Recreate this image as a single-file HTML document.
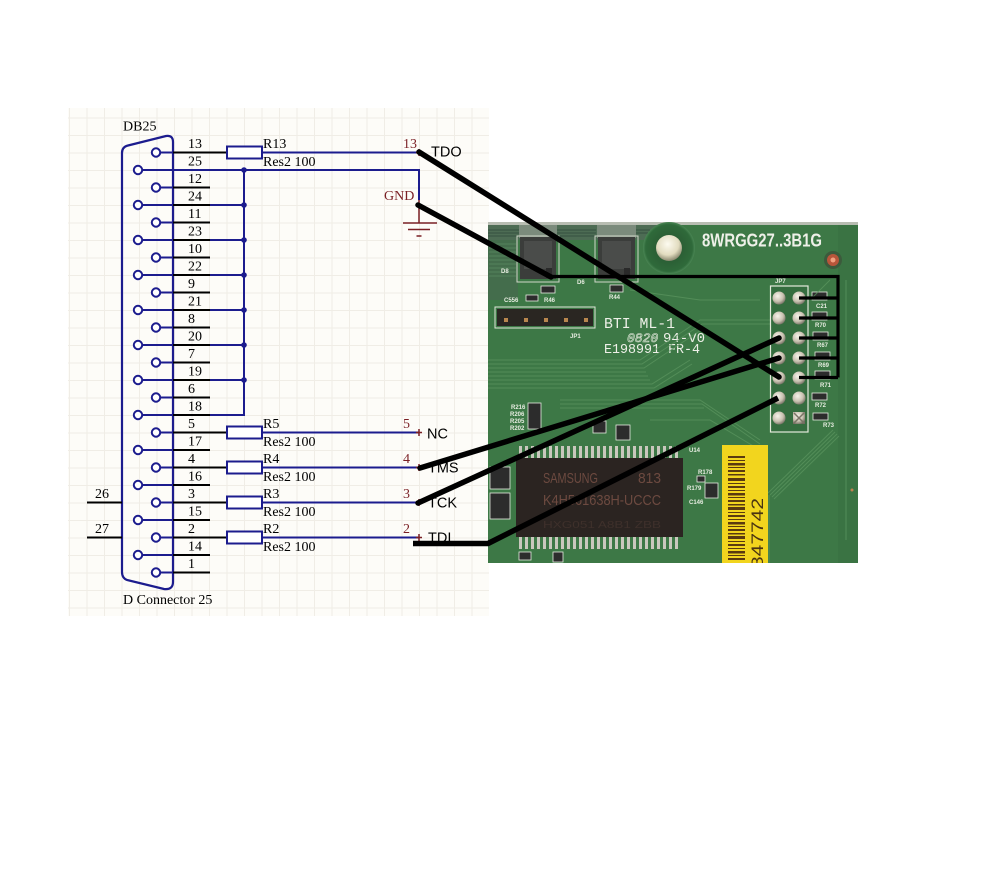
<!DOCTYPE html>
<html><head><meta charset="utf-8"><style>
html,body{margin:0;padding:0;background:#fff;}
svg{display:block;}
</style></head><body>
<svg width="1000" height="886" viewBox="0 0 1000 886" xmlns="http://www.w3.org/2000/svg">
<defs>
<pattern id="g" x="16.5" y="12.5" width="17.5" height="17.5" patternUnits="userSpaceOnUse">
<path d="M0.5 0V17.5M0 0.5H17.5" stroke="#f0ede6" stroke-width="1" fill="none"/>
</pattern>
<radialGradient id="pin" cx="0.4" cy="0.35" r="0.7"><stop offset="0" stop-color="#f6f3ea"/><stop offset="0.6" stop-color="#c8c1b0"/><stop offset="1" stop-color="#6f6a5e"/></radialGradient>
<radialGradient id="hole" cx="0.45" cy="0.35" r="0.7"><stop offset="0" stop-color="#fdfbf0"/><stop offset="0.6" stop-color="#e2dcc0"/><stop offset="1" stop-color="#77765e"/></radialGradient>
<radialGradient id="ring" cx="0.5" cy="0.5" r="0.5"><stop offset="0.5" stop-color="#2b5f35"/><stop offset="0.9" stop-color="#2f6a3a"/><stop offset="1" stop-color="#4a8654"/></radialGradient>
<clipPath id="pc"><rect x="488" y="222" width="370" height="341"/></clipPath>
</defs>

<!-- schematic background -->
<rect x="68" y="108" width="421" height="508" fill="#fdfcf8"/>
<rect x="68" y="108" width="421" height="508" fill="url(#g)"/>

<g font-family="'Liberation Serif', serif" font-size="14" fill="#000">
<text x="123" y="130.5">DB25</text>
<text x="123" y="604">D Connector 25</text>
</g>

<!-- connector outline -->
<path d="M122 572 L122 153 Q122 147 128 145.5 L166 136 Q173 135 173 142 L173 582 Q173 590 164 589 L127 580 Q122 578 122 572 Z" fill="none" stroke="#1c1c8e" stroke-width="2.2"/>

<!-- pins 26/27 -->
<g stroke="#000" stroke-width="2">
<line x1="87" y1="502.5" x2="122" y2="502.5"/>
<line x1="87" y1="537.5" x2="122" y2="537.5"/>
</g>
<g font-family="'Liberation Serif', serif" font-size="14">
<text x="95" y="498">26</text>
<text x="95" y="533">27</text>
</g>

<!-- black pin stubs -->
<g stroke="#000" stroke-width="2">
<line x1="173" y1="152.5" x2="227" y2="152.5"/>
<line x1="173" y1="187.5" x2="210" y2="187.5"/>
<line x1="173" y1="205" x2="210" y2="205"/>
<line x1="173" y1="222.5" x2="210" y2="222.5"/>
<line x1="173" y1="240" x2="210" y2="240"/>
<line x1="173" y1="257.5" x2="210" y2="257.5"/>
<line x1="173" y1="275" x2="210" y2="275"/>
<line x1="173" y1="292.5" x2="210" y2="292.5"/>
<line x1="173" y1="310" x2="210" y2="310"/>
<line x1="173" y1="327.5" x2="210" y2="327.5"/>
<line x1="173" y1="345" x2="210" y2="345"/>
<line x1="173" y1="362.5" x2="210" y2="362.5"/>
<line x1="173" y1="380" x2="210" y2="380"/>
<line x1="173" y1="397.5" x2="210" y2="397.5"/>
<line x1="173" y1="415" x2="210" y2="415"/>
<line x1="173" y1="432.5" x2="227" y2="432.5"/>
<line x1="173" y1="450" x2="210" y2="450"/>
<line x1="173" y1="467.5" x2="227" y2="467.5"/>
<line x1="173" y1="485" x2="210" y2="485"/>
<line x1="173" y1="502.5" x2="227" y2="502.5"/>
<line x1="173" y1="520" x2="210" y2="520"/>
<line x1="173" y1="537.5" x2="227" y2="537.5"/>
<line x1="173" y1="555" x2="210" y2="555"/>
<line x1="173" y1="572.5" x2="210" y2="572.5"/>
</g>

<!-- blue pin leads inside connector -->
<g stroke="#1c1c8e" stroke-width="2">
<line x1="160" y1="152.5" x2="173" y2="152.5"/>
<line x1="160" y1="187.5" x2="173" y2="187.5"/>
<line x1="160" y1="222.5" x2="173" y2="222.5"/>
<line x1="160" y1="257.5" x2="173" y2="257.5"/>
<line x1="160" y1="292.5" x2="173" y2="292.5"/>
<line x1="160" y1="327.5" x2="173" y2="327.5"/>
<line x1="160" y1="362.5" x2="173" y2="362.5"/>
<line x1="160" y1="397.5" x2="173" y2="397.5"/>
<line x1="160" y1="432.5" x2="173" y2="432.5"/>
<line x1="160" y1="467.5" x2="173" y2="467.5"/>
<line x1="160" y1="502.5" x2="173" y2="502.5"/>
<line x1="160" y1="537.5" x2="173" y2="537.5"/>
<line x1="160" y1="572.5" x2="173" y2="572.5"/>
<line x1="142" y1="170" x2="419" y2="170"/>
<line x1="142" y1="205" x2="173" y2="205"/>
<line x1="142" y1="240" x2="173" y2="240"/>
<line x1="142" y1="275" x2="173" y2="275"/>
<line x1="142" y1="310" x2="173" y2="310"/>
<line x1="142" y1="345" x2="173" y2="345"/>
<line x1="142" y1="380" x2="173" y2="380"/>
<line x1="142" y1="415" x2="173" y2="415"/>
<line x1="142" y1="450" x2="173" y2="450"/>
<line x1="142" y1="485" x2="173" y2="485"/>
<line x1="142" y1="520" x2="173" y2="520"/>
<line x1="142" y1="555" x2="173" y2="555"/>
<!-- ground bus -->
<line x1="210" y1="205" x2="244" y2="205"/>
<line x1="210" y1="240" x2="244" y2="240"/>
<line x1="210" y1="275" x2="244" y2="275"/>
<line x1="210" y1="310" x2="244" y2="310"/>
<line x1="210" y1="345" x2="244" y2="345"/>
<line x1="210" y1="380" x2="244" y2="380"/>
<path d="M210 415 H244 V170" fill="none"/>
<line x1="419" y1="169" x2="419" y2="200"/>
<!-- resistor wires -->
<line x1="262" y1="152.5" x2="419" y2="152.5"/>
<line x1="262" y1="432.5" x2="419" y2="432.5"/>
<line x1="262" y1="467.5" x2="419" y2="467.5"/>
<line x1="262" y1="502.5" x2="419" y2="502.5"/>
<line x1="262" y1="537.5" x2="419" y2="537.5"/>
</g>
<g fill="#1c1c8e">
<circle cx="244" cy="170" r="2.8"/><circle cx="244" cy="205" r="2.8"/><circle cx="244" cy="240" r="2.8"/>
<circle cx="244" cy="275" r="2.8"/><circle cx="244" cy="310" r="2.8"/><circle cx="244" cy="345" r="2.8"/>
<circle cx="244" cy="380" r="2.8"/>
</g>

<!-- pin circles -->
<g fill="#fff" stroke="#1c1c8e" stroke-width="2">
<circle cx="156" cy="152.5" r="4.2"/><circle cx="156" cy="187.5" r="4.2"/><circle cx="156" cy="222.5" r="4.2"/>
<circle cx="156" cy="257.5" r="4.2"/><circle cx="156" cy="292.5" r="4.2"/><circle cx="156" cy="327.5" r="4.2"/>
<circle cx="156" cy="362.5" r="4.2"/><circle cx="156" cy="397.5" r="4.2"/><circle cx="156" cy="432.5" r="4.2"/>
<circle cx="156" cy="467.5" r="4.2"/><circle cx="156" cy="502.5" r="4.2"/><circle cx="156" cy="537.5" r="4.2"/>
<circle cx="156" cy="572.5" r="4.2"/>
<circle cx="138" cy="170" r="4.2"/><circle cx="138" cy="205" r="4.2"/><circle cx="138" cy="240" r="4.2"/>
<circle cx="138" cy="275" r="4.2"/><circle cx="138" cy="310" r="4.2"/><circle cx="138" cy="345" r="4.2"/>
<circle cx="138" cy="380" r="4.2"/><circle cx="138" cy="415" r="4.2"/><circle cx="138" cy="450" r="4.2"/>
<circle cx="138" cy="485" r="4.2"/><circle cx="138" cy="520" r="4.2"/><circle cx="138" cy="555" r="4.2"/>
</g>

<!-- resistors -->
<g fill="#fff" stroke="#1c1c8e" stroke-width="2">
<rect x="227" y="146.5" width="35" height="12"/>
<rect x="227" y="426.5" width="35" height="12"/>
<rect x="227" y="461.5" width="35" height="12"/>
<rect x="227" y="496.5" width="35" height="12"/>
<rect x="227" y="531.5" width="35" height="12"/>
</g>

<!-- pin numbers -->
<g font-family="'Liberation Serif', serif" font-size="14">
<text x="188" y="148">13</text><text x="188" y="165.5">25</text>
<text x="188" y="183">12</text><text x="188" y="200.5">24</text>
<text x="188" y="218">11</text><text x="188" y="235.5">23</text>
<text x="188" y="253">10</text><text x="188" y="270.5">22</text>
<text x="188" y="288">9</text><text x="188" y="305.5">21</text>
<text x="188" y="323">8</text><text x="188" y="340.5">20</text>
<text x="188" y="358">7</text><text x="188" y="375.5">19</text>
<text x="188" y="393">6</text><text x="188" y="410.5">18</text>
<text x="188" y="428">5</text><text x="188" y="445.5">17</text>
<text x="188" y="463">4</text><text x="188" y="480.5">16</text>
<text x="188" y="498">3</text><text x="188" y="515.5">15</text>
<text x="188" y="533">2</text><text x="188" y="550.5">14</text>
<text x="188" y="568">1</text>
<!-- resistor labels -->
<text x="263" y="148">R13</text><text x="263" y="166">Res2 100</text>
<text x="263" y="428">R5</text><text x="263" y="446">Res2 100</text>
<text x="263" y="463">R4</text><text x="263" y="481">Res2 100</text>
<text x="263" y="498">R3</text><text x="263" y="516">Res2 100</text>
<text x="263" y="533">R2</text><text x="263" y="551">Res2 100</text>
</g>

<!-- right-side port numbers (maroon) -->
<g font-family="'Liberation Serif', serif" font-size="14" fill="#7a1f24">
<text x="403" y="148">13</text>
<text x="403" y="428">5</text>
<text x="403" y="463">4</text>
<text x="403" y="498">3</text>
<text x="403" y="533">2</text>
<text x="384" y="200">GND</text>
</g>
<g stroke="#7a1f24" stroke-width="1.5">
<path d="M419 149v7M416 152.5h6"/>
<path d="M419 429v7M416 432.5h6"/>
<path d="M419 464v7M416 467.5h6"/>
<path d="M419 499v7M416 502.5h6"/>
<path d="M419 534v7M416 537.5h6"/>
<!-- ground symbol -->
<path d="M419 200V223M403 223h34M408 229.5h22M416.5 236h5"/>
</g>

<!-- signal labels -->
<g font-family="'Liberation Sans', sans-serif" font-size="14.5" fill="#000">
<text x="431" y="156.5">TDO</text>
<text x="427" y="438.3">NC</text>
<text x="428" y="472.7">TMS</text>
<text x="428" y="507.7">TCK</text>
<text x="428" y="542.7">TDI</text>
</g>

<!-- ============ PCB PHOTO ============ -->
<g clip-path="url(#pc)">
<rect x="488" y="222" width="370" height="341" fill="#3d7846"/>
<rect x="838" y="222" width="20" height="341" fill="#3a7343"/>
<rect x="488" y="222" width="370" height="3" fill="#b8bdb2"/>
<!-- top left mechanical area -->
<rect x="488" y="225" width="176" height="15" fill="#4d6c54"/>
<g stroke="#355040" stroke-width="1">
<path d="M488 230H520M488 233H520M488 236H520M556 230H596M556 233H596M556 236H596M636 230H650M636 233H650"/>
</g>
<rect x="488" y="240" width="30" height="60" fill="#446d4c"/>
<g stroke="#5a8a62" stroke-width="0.8">
<path d="M489 244H516M489 248H516M489 252H516M489 256H516M489 260H516M489 264H516M489 268H516M489 272H516M489 276H516"/>
</g>
<rect x="519" y="225" width="38" height="13" fill="#7b8b7c"/>
<rect x="597" y="225" width="39" height="13" fill="#7b8b7c"/>
<rect x="517" y="236" width="42" height="46" fill="none" stroke="#cfd6c8" stroke-width="1"/>
<rect x="595" y="236" width="43" height="46" fill="none" stroke="#cfd6c8" stroke-width="1"/>
<rect x="520" y="237" width="36" height="42" fill="#3b3d3b"/>
<rect x="598" y="237" width="37" height="42" fill="#3b3d3b"/>
<rect x="524" y="241" width="28" height="28" fill="#4a4c4a"/>
<rect x="602" y="241" width="29" height="28" fill="#4a4c4a"/>
<rect x="546" y="268" width="6" height="10" fill="#2a2a2a"/>
<rect x="624" y="268" width="6" height="10" fill="#2a2a2a"/>
<!-- hole -->
<circle cx="669" cy="248" r="26" fill="url(#ring)"/>
<circle cx="669" cy="248" r="13" fill="url(#hole)"/>
<!-- LED -->
<circle cx="833" cy="260" r="9" fill="#3c5a3c"/>
<circle cx="833" cy="260" r="6" fill="#b8553a"/>
<circle cx="833" cy="260" r="2.5" fill="#f2a080"/>
<text x="702" y="246.5" font-family="'Liberation Sans', sans-serif" font-weight="bold" font-size="18" fill="#eef0e8" textLength="120" lengthAdjust="spacingAndGlyphs">8WRGG27..3B1G</text>
<!-- silkscreen labels small -->
<g font-family="'Liberation Sans', sans-serif" font-size="6" fill="#e6ece0" font-weight="bold">
<text x="501" y="273">D8</text>
<text x="577" y="284">D6</text>
<text x="504" y="302">C556</text>
<text x="544" y="302">R46</text>
<text x="609" y="299">R44</text>
<text x="570" y="338">JP1</text>
<text x="775" y="283">JP7</text>
<text x="816" y="308">C21</text>
<text x="815" y="327">R70</text>
<text x="817" y="347">R67</text>
<text x="818" y="367">R69</text>
<text x="820" y="387">R71</text>
<text x="815" y="407">R72</text>
<text x="823" y="427">R73</text>
<text x="511" y="409">R216</text>
<text x="510" y="416">R206</text>
<text x="510" y="423">R205</text>
<text x="510" y="430">R202</text>
<text x="689" y="452">U14</text>
<text x="698" y="474">R178</text>
<text x="687" y="490">R179</text>
<text x="689" y="504">C146</text>
</g>
<!-- small pads -->
<g fill="#2c2c2c" stroke="#e6ece0" stroke-width="0.8">
<rect x="541" y="286" width="14" height="7"/>
<rect x="610" y="285" width="13" height="7"/>
<rect x="526" y="295" width="12" height="6"/>
<rect x="812" y="292" width="15" height="8"/>
<rect x="812" y="312" width="15" height="8"/>
<rect x="813" y="332" width="15" height="8"/>
<rect x="815" y="352" width="15" height="8"/>
<rect x="815" y="371" width="15" height="8"/>
<rect x="812" y="393" width="15" height="7"/>
<rect x="813" y="413" width="15" height="7"/>
<rect x="528" y="403" width="13" height="26"/>
<rect x="593" y="421" width="13" height="12"/>
<rect x="616" y="425" width="14" height="15"/>
<rect x="705" y="483" width="13" height="15"/>
<rect x="697" y="476" width="8" height="6"/>
<rect x="490" y="467" width="20" height="22"/>
<rect x="490" y="493" width="20" height="26"/>
<rect x="519" y="552" width="12" height="8"/>
<rect x="553" y="552" width="10" height="10"/>
</g>
<!-- JP1 header -->
<rect x="495" y="307" width="100" height="21" fill="none" stroke="#e0e6d8" stroke-width="1"/>
<rect x="497" y="309" width="96" height="17" fill="#2a2622"/>
<g fill="#b8864e"><rect x="504" y="318" width="4" height="4"/><rect x="524" y="318" width="4" height="4"/><rect x="544" y="318" width="4" height="4"/><rect x="564" y="318" width="4" height="4"/><rect x="584" y="318" width="4" height="4"/></g>
<!-- board marking text -->
<text x="604" y="328" font-family="'Liberation Mono', monospace" font-size="15" fill="#eef0e8" textLength="71" lengthAdjust="spacingAndGlyphs">BTI ML-1</text>
<text x="627" y="342" font-family="'Liberation Mono', monospace" font-style="italic" font-size="13" fill="none" stroke="#dfe6d8" stroke-width="0.6">0820</text>
<text x="663" y="342" font-family="'Liberation Mono', monospace" font-size="14" fill="#eef0e8">94-V0</text>
<text x="604" y="353" font-family="'Liberation Mono', monospace" font-size="13.5" fill="#eef0e8" textLength="96" lengthAdjust="spacingAndGlyphs">E198991  FR-4</text>
<!-- traces -->
<g stroke="#5b955f" stroke-width="1" fill="none" opacity="0.75">
<path d="M488 360H640L700 320H800"/>
<path d="M488 364H642L702 324H770"/>
<path d="M488 368H644L704 328"/>
<path d="M488 372H646"/>
<path d="M488 376H648"/>
<path d="M488 380H650"/>
<path d="M488 384H652L690 360"/>
<path d="M488 388H654L692 364"/>
<path d="M560 400H700L760 440"/>
<path d="M560 404H702L760 444"/>
<path d="M560 408H704"/>
<path d="M650 420H710L760 450"/>
<path d="M768 493L833 430"/>
<path d="M770 495L835 432"/>
<path d="M772 497L837 434"/>
<path d="M774 499L839 436"/>
<path d="M769 495V563"/>
<path d="M630 290L700 300H760"/>
<path d="M846 280V540"/>
<path d="M810 300L830 280"/>
</g>
<!-- JP7 header -->
<rect x="770.5" y="286" width="37.5" height="146" fill="#356d3f" stroke="#e4eadc" stroke-width="1.2"/>
<g fill="url(#pin)">
<circle cx="779" cy="298" r="6.5"/><circle cx="799" cy="298" r="6.5"/>
<circle cx="779" cy="318" r="6.5"/><circle cx="799" cy="318" r="6.5"/>
<circle cx="779" cy="338" r="6.5"/><circle cx="799" cy="338" r="6.5"/>
<circle cx="779" cy="358" r="6.5"/><circle cx="799" cy="358" r="6.5"/>
<circle cx="779" cy="378" r="6.5"/><circle cx="799" cy="378" r="6.5"/>
<circle cx="779" cy="398" r="6.5"/><circle cx="799" cy="398" r="6.5"/>
<circle cx="779" cy="418" r="6.5"/>
<rect x="793" y="412" width="12" height="12"/>
</g>
<path d="M794 413L804 423M804 413L794 423" stroke="#7a7466" stroke-width="1.5"/>
<!-- SAMSUNG chip -->
<g fill="#c9c7bd">
<rect x="519" y="446" width="3" height="12"/><rect x="525" y="446" width="3" height="12"/><rect x="531" y="446" width="3" height="12"/><rect x="537" y="446" width="3" height="12"/><rect x="543" y="446" width="3" height="12"/><rect x="549" y="446" width="3" height="12"/><rect x="555" y="446" width="3" height="12"/><rect x="561" y="446" width="3" height="12"/><rect x="567" y="446" width="3" height="12"/><rect x="573" y="446" width="3" height="12"/><rect x="579" y="446" width="3" height="12"/><rect x="585" y="446" width="3" height="12"/><rect x="591" y="446" width="3" height="12"/><rect x="597" y="446" width="3" height="12"/><rect x="603" y="446" width="3" height="12"/><rect x="609" y="446" width="3" height="12"/><rect x="615" y="446" width="3" height="12"/><rect x="621" y="446" width="3" height="12"/><rect x="627" y="446" width="3" height="12"/><rect x="633" y="446" width="3" height="12"/><rect x="639" y="446" width="3" height="12"/><rect x="645" y="446" width="3" height="12"/><rect x="651" y="446" width="3" height="12"/><rect x="657" y="446" width="3" height="12"/><rect x="663" y="446" width="3" height="12"/><rect x="669" y="446" width="3" height="12"/><rect x="675" y="446" width="3" height="12"/>
<rect x="519" y="537" width="3" height="12"/><rect x="525" y="537" width="3" height="12"/><rect x="531" y="537" width="3" height="12"/><rect x="537" y="537" width="3" height="12"/><rect x="543" y="537" width="3" height="12"/><rect x="549" y="537" width="3" height="12"/><rect x="555" y="537" width="3" height="12"/><rect x="561" y="537" width="3" height="12"/><rect x="567" y="537" width="3" height="12"/><rect x="573" y="537" width="3" height="12"/><rect x="579" y="537" width="3" height="12"/><rect x="585" y="537" width="3" height="12"/><rect x="591" y="537" width="3" height="12"/><rect x="597" y="537" width="3" height="12"/><rect x="603" y="537" width="3" height="12"/><rect x="609" y="537" width="3" height="12"/><rect x="615" y="537" width="3" height="12"/><rect x="621" y="537" width="3" height="12"/><rect x="627" y="537" width="3" height="12"/><rect x="633" y="537" width="3" height="12"/><rect x="639" y="537" width="3" height="12"/><rect x="645" y="537" width="3" height="12"/><rect x="651" y="537" width="3" height="12"/><rect x="657" y="537" width="3" height="12"/><rect x="663" y="537" width="3" height="12"/><rect x="669" y="537" width="3" height="12"/><rect x="675" y="537" width="3" height="12"/>
</g>
<rect x="516" y="458" width="167" height="79" fill="#2b2421"/>
<g font-family="'Liberation Sans', sans-serif" fill="#6d4a40">
<text x="543" y="483" font-size="15" textLength="55" lengthAdjust="spacingAndGlyphs">SAMSUNG</text>
<text x="638" y="483" font-size="15" textLength="23" lengthAdjust="spacingAndGlyphs">813</text>
<text x="543" y="505" font-size="15" textLength="118" lengthAdjust="spacingAndGlyphs">K4H561638H-UCCC</text>
<text x="543" y="528" font-size="10" fill="#3e302b" textLength="118" lengthAdjust="spacingAndGlyphs">HXG051 A8B1 ZBB</text>
</g>
<!-- yellow barcode label -->
<rect x="722" y="445" width="46" height="120" fill="#f2d51e"/>
<g fill="#5a3a10">
<rect x="728" y="456" width="17" height="2"/><rect x="728" y="460" width="17" height="1"/><rect x="728" y="463" width="17" height="2.5"/><rect x="728" y="467" width="17" height="1"/><rect x="728" y="470" width="17" height="2"/><rect x="728" y="474" width="17" height="1.5"/><rect x="728" y="478" width="17" height="3"/><rect x="728" y="483" width="17" height="1"/><rect x="728" y="486" width="17" height="2"/><rect x="728" y="490" width="17" height="1"/><rect x="728" y="493" width="17" height="2.5"/><rect x="728" y="497" width="17" height="1"/><rect x="728" y="500" width="17" height="2"/><rect x="728" y="504" width="17" height="1.5"/><rect x="728" y="507" width="17" height="3"/><rect x="728" y="512" width="17" height="1"/><rect x="728" y="515" width="17" height="2"/><rect x="728" y="519" width="17" height="1"/><rect x="728" y="522" width="17" height="2.5"/><rect x="728" y="526" width="17" height="1"/><rect x="728" y="529" width="17" height="2"/><rect x="728" y="533" width="17" height="1.5"/><rect x="728" y="536" width="17" height="3"/><rect x="728" y="541" width="17" height="1"/><rect x="728" y="544" width="17" height="2"/><rect x="728" y="548" width="17" height="1"/><rect x="728" y="551" width="17" height="2.5"/><rect x="728" y="555" width="17" height="1"/><rect x="728" y="558" width="17" height="2"/>
</g>
<text transform="translate(763 568) rotate(-90)" font-family="'Liberation Sans', sans-serif" font-size="17" fill="#4a3412" textLength="70" lengthAdjust="spacingAndGlyphs">847742</text>
<circle cx="852" cy="490" r="1.5" fill="#c08050"/>
</g>

<!-- ============ BLACK WIRES ============ -->
<g stroke="#000" fill="none" stroke-linecap="round">
<line x1="419" y1="152" x2="779" y2="377" stroke-width="5.5"/>
<line x1="418" y1="205" x2="551" y2="277" stroke-width="5.5"/>
<line x1="420" y1="468" x2="779" y2="358" stroke-width="5.5"/>
<line x1="418" y1="503" x2="779" y2="338" stroke-width="5.5"/>
<path d="M413 543.5H488L778 398" stroke-width="5.5" stroke-linecap="butt" stroke-linejoin="round"/>
<path d="M549 276.5H838V377.5" stroke-width="3.2" stroke-linecap="butt"/>
<path d="M799 298H838M799 318H838M799 338H838M799 358H838M799 377.5H838" stroke-width="3.2" stroke-linecap="butt"/>
</g>
</svg>
</body></html>
